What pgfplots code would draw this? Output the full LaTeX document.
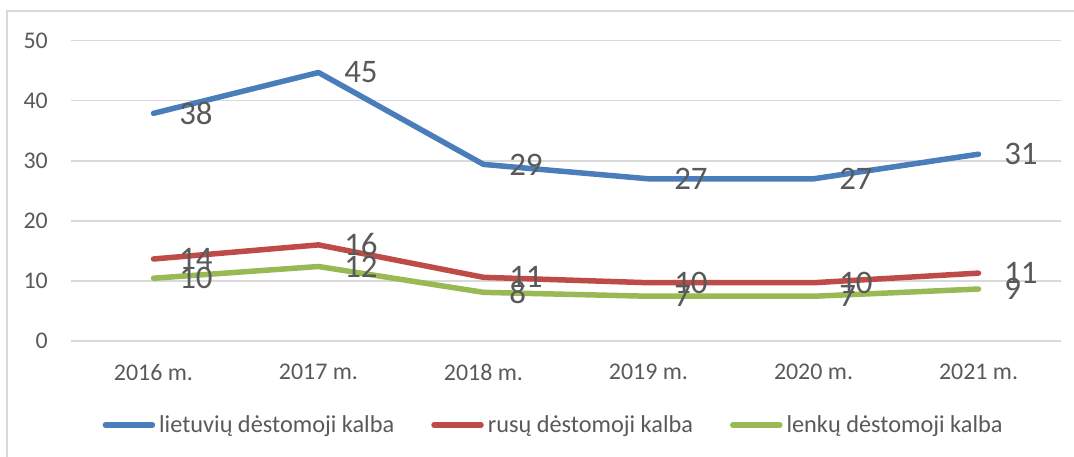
\documentclass[border=0pt]{standalone}
\usepackage{pgfplots}
\pgfplotsset{compat=1.18}
\usepackage{fontspec}
\setmainfont{Carlito}
\definecolor{txt}{HTML}{595959}
\definecolor{gridc}{HTML}{D9D9D9}
\definecolor{cblue}{HTML}{4A7EBB}
\definecolor{cred}{HTML}{BE4B48}
\definecolor{cgreen}{HTML}{98B954}
\begin{document}
\begin{tikzpicture}[x=1bp,y=1bp]
\useasboundingbox (0,0) rectangle (1074,457);
\clip (0,0) rectangle (1074,457);
\draw[color=gridc, line width=1.5bp] (7,-20) rectangle (1090,446);
\begin{axis}[
  at={(71bp,116bp)}, anchor=south west,
  scale only axis, width=990bp, height=300.33bp,
  xmin=-0.5, xmax=5.5, ymin=0, ymax=50,
  xtick={0,...,5},
  xticklabels={2016 m.,2017 m.,2018 m.,2019 m.,2020 m.,2021 m.},
  ytick={0,10,...,50},
  ymajorgrids,
  major grid style={draw=gridc, line width=1.5bp},
  axis line style={draw=none},
  major tick length=0pt,
  /pgf/number format/assume math mode=true,
  ticklabel style={font=\fontsize{24}{24}\selectfont, text=txt, inner sep=0pt},
  xticklabel style={anchor=north, yshift=-23bp},
  yticklabel style={anchor=east, xshift=-23bp},
  clip=false,
  point meta=explicit symbolic,
  nodes near coords,
  nodes near coords style={anchor=west, xshift=23bp, inner sep=0pt, text=txt, font=\fontsize{33}{33}\selectfont},
  every axis plot/.append style={line width=5.5bp, line cap=round, line join=round},
  legend columns=3,
  legend cell align=left,
  legend image code/.code={\draw[#1] (0bp,0bp) -- (47bp,0bp);},
  legend style={at={(0.0318,-0.2797)}, anchor=west, draw=none, fill=none, inner sep=0pt,
    font=\fontsize{24.4}{24.4}\selectfont, text=txt,
    nodes={inner sep=0pt},
    /tikz/every odd column/.append style={column sep=4bp},
    /tikz/every even column/.append style={column sep=37bp}},
]
\addplot[color=cblue] coordinates {(0,37.9)[38] (1,44.7)[45] (2,29.4)[29] (3,27.0)[27] (4,27.0)[27] (5,31.1)[31]};
\addlegendentry{lietuvių dėstomoji kalba}
\addplot[color=cred] coordinates {(0,13.65)[14] (1,16.0)[16] (2,10.6)[11] (3,9.7)[10] (4,9.7)[10] (5,11.3)[11]};
\addlegendentry{rusų dėstomoji kalba}
\addplot[color=cgreen] coordinates {(0,10.45)[10] (1,12.4)[12] (2,8.1)[8] (3,7.45)[7] (4,7.45)[7] (5,8.65)[9]};
\addlegendentry{lenkų dėstomoji kalba}
\end{axis}
\end{tikzpicture}
\end{document}
